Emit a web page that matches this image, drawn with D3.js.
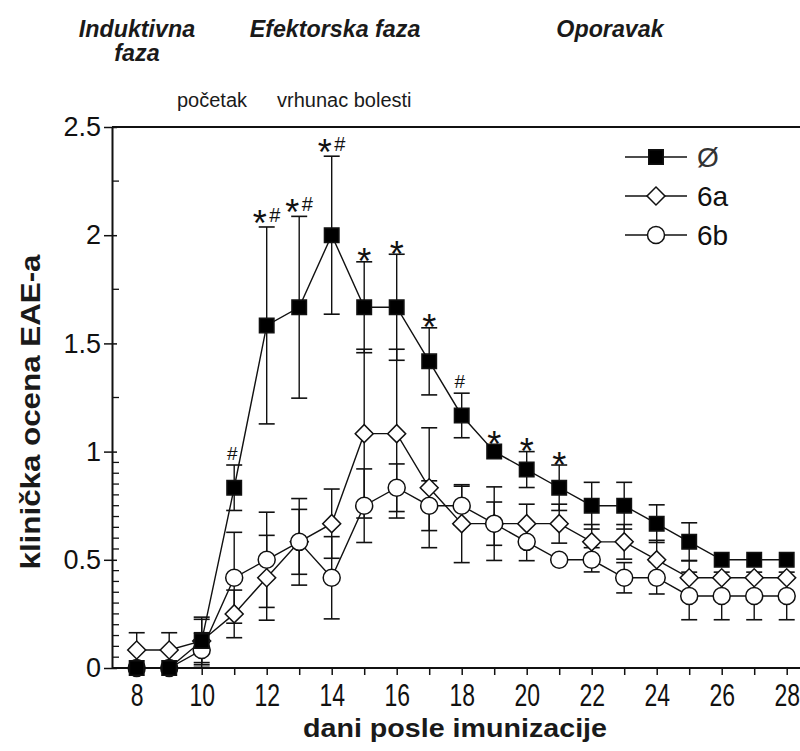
<!DOCTYPE html>
<html>
<head>
<meta charset="utf-8">
<script src="https://cdn.jsdelivr.net/npm/d3@7"></script>
<style>
  body { margin: 0; background: #fff; }
  svg { display: block; font-family: "Liberation Sans", Arial, sans-serif; }
</style>
</head>
<body>
<svg id="chart" width="800" height="751"></svg>
<script>
// Days after immunization
const days = [8, 9, 10, 11, 12, 13, 14, 15, 16, 17, 18, 19, 20, 21, 22, 23, 24, 25, 26, 27, 28];

// Mean clinical EAE score and its error (Ø = control)
const meanCtrl = [0, 0, 0.125, 0.833, 1.583, 1.667, 2.0, 1.667, 1.667, 1.417, 1.167, 1.0, 0.917, 0.833, 0.75, 0.75, 0.667, 0.583, 0.5, 0.5, 0.5];
const errCtrl  = [0, 0, 0.11, 0.105, 0.455, 0.42, 0.365, 0.21, 0.245, 0.155, 0.103, 0, 0.083, 0.105, 0.108, 0.108, 0.087, 0.088, 0, 0, 0];

const mean6a = [0.083, 0.083, 0.125, 0.25, 0.417, 0.583, 0.667, 1.083, 1.083, 0.833, 0.667, 0.667, 0.667, 0.667, 0.583, 0.583, 0.5, 0.417, 0.417, 0.417, 0.417];
const err6a  = [0.08, 0.08, 0.1, 0.11, 0.196, 0.2, 0.16, 0.39, 0.39, 0.277, 0.18, 0.17, 0.09, 0.09, 0.08, 0.08, 0.09, 0.08, 0, 0, 0];

const mean6b = [0, 0, 0.083, 0.417, 0.5, 0.583, 0.417, 0.75, 0.833, 0.75, 0.75, 0.667, 0.583, 0.5, 0.5, 0.417, 0.417, 0.333, 0.333, 0.333, 0.333];
const err6b  = [0, 0, 0.08, 0.21, 0.22, 0.15, 0.19, 0.17, 0.11, 0.115, 0.09, 0.1, 0.087, 0, 0.056, 0.07, 0.075, 0.11, 0.11, 0.11, 0.11];

// Significance marks above the control series
const starDays = [12, 13, 14, 15, 16, 17, 19, 20, 21];
const hashDays = [11, 12, 13, 14, 18];

// Axis ticks
const yMajor = [0, 0.5, 1, 1.5, 2, 2.5];
const yMinor = [0.05, 0.1, 0.15, 0.2, 0.25, 0.3, 0.35, 0.4, 0.45, 0.55, 0.6, 0.65, 0.7, 0.75, 0.8, 0.85, 0.9, 0.95, 1.25, 1.75, 2.25];
const xLabels = [8, 10, 12, 14, 16, 18, 20, 22, 24, 26, 28];

// Phase headings and events
const phases = [
  { lines: ["Induktivna", "faza"], cx: 137 },
  { lines: ["Efektorska faza"], cx: 335 },
  { lines: ["Oporavak"], cx: 610 }
];
const events = [
  { text: "početak", x: 177 },
  { text: "vrhunac bolesti", x: 277 }
];

const svg = d3.select("#chart");
const plotLeft = 112, plotRight = 800;
const x = d3.scaleLinear().domain([8, 28]).range([136.7, 786.7]);
const y = d3.scaleLinear().domain([0, 2.5]).range([668, 127]);

const build = (m, e) => days.map((d, i) => ({ day: d, v: m[i], e: e[i] }));
const series = [
  { name: "6a", shape: "diamond", data: build(mean6a, err6a) },
  { name: "6b", shape: "circle", data: build(mean6b, err6b) },
  { name: "Ø", shape: "square", data: build(meanCtrl, errCtrl) }
];
const ctrl = series[2].data;

// --- frame and axes ---
svg.append("line")
  .attr("x1", plotLeft).attr("x2", plotRight)
  .attr("y1", y(2.5)).attr("y2", y(2.5))
  .attr("stroke", "#111").attr("stroke-width", 2);

const gy = svg.append("g").attr("transform", `translate(${plotLeft},0)`)
  .call(d3.axisLeft(y).tickValues(yMajor).tickFormat(d3.format("~g"))
    .tickSizeInner(8).tickSizeOuter(0).tickPadding(3));
gy.select(".domain").attr("stroke", "#111").attr("stroke-width", 2);
gy.selectAll(".tick line").attr("x2", -8).attr("x1", 5).attr("stroke", "#111").attr("stroke-width", 1.5);
gy.selectAll(".tick text").attr("font-size", 27).attr("fill", "#111")
  .attr("font-family", "'Liberation Sans', Arial, sans-serif");

gy.selectAll(".minor").data(yMinor).join("line")
  .attr("class", "minor")
  .attr("x1", 0).attr("x2", 7)
  .attr("y1", d => y(d)).attr("y2", d => y(d))
  .attr("stroke", "#111").attr("stroke-width", 1.3);

const gx = svg.append("g").attr("transform", `translate(0,${y(0)})`)
  .call(d3.axisBottom(x).tickValues(days)
    .tickFormat(d => xLabels.includes(d) ? d : "")
    .tickSizeInner(7).tickSizeOuter(0));
gx.select(".domain").attr("d", `M${plotLeft},0H${plotRight}`).attr("stroke", "#111").attr("stroke-width", 2);
gx.selectAll(".tick line").attr("stroke", "#111").attr("stroke-width", 1.5);
gx.selectAll(".tick text")
  .attr("font-size", 28).attr("fill", "#111")
  .attr("font-family", "'Liberation Sans', Arial, sans-serif")
  .attr("y", 0).attr("dy", null)
  .attr("transform", "translate(0,38) scale(0.82,1.1)");

// axis titles
svg.append("text")
  .attr("transform", "translate(40,412) rotate(-90)")
  .attr("text-anchor", "middle")
  .attr("font-size", 27).attr("font-weight", "bold").attr("fill", "#1a1a1a")
  .attr("textLength", 315).attr("lengthAdjust", "spacingAndGlyphs")
  .text("klinička ocena EAE-a");

svg.append("text")
  .attr("x", 455).attr("y", 737)
  .attr("text-anchor", "middle")
  .attr("font-size", 26).attr("font-weight", "bold").attr("fill", "#1a1a1a")
  .attr("textLength", 304).attr("lengthAdjust", "spacingAndGlyphs")
  .text("dani posle imunizacije");

// phase headings (multi-line headings kept in one text element)
phases.forEach(p => {
  const t = svg.append("text")
    .attr("transform", `translate(${p.cx},37) scale(0.97,1)`)
    .attr("text-anchor", "middle")
    .attr("font-size", 24).attr("font-weight", "bold").attr("font-style", "italic")
    .attr("fill", "#1a1a1a");
  p.lines.forEach((line, i) => {
    t.append("tspan").attr("x", 0).attr("dy", i === 0 ? 0 : 24).text(line);
  });
});
events.forEach(ev => {
  svg.append("text")
    .attr("x", ev.x).attr("y", 107)
    .attr("font-size", 20).attr("fill", "#1a1a1a")
    .text(ev.text);
});

// --- data ---
const plot = svg.append("g");
const line = d3.line().x(d => x(d.day)).y(d => y(d.v));

plot.selectAll(".series-line").data(series).join("path")
  .attr("class", "series-line")
  .attr("d", s => line(s.data))
  .attr("fill", "none").attr("stroke", "#111").attr("stroke-width", 1.4);

const capW = 8;
series.forEach(s => {
  const g = plot.append("g");
  const withErr = s.data.filter(d => d.e > 0);
  g.selectAll(".bar").data(withErr).join("line")
    .attr("x1", d => x(d.day)).attr("x2", d => x(d.day))
    .attr("y1", d => y(d.v - d.e)).attr("y2", d => y(d.v + d.e))
    .attr("stroke", "#111").attr("stroke-width", 1.4);
  g.selectAll(".capTop").data(withErr).join("line")
    .attr("x1", d => x(d.day) - capW).attr("x2", d => x(d.day) + capW)
    .attr("y1", d => y(d.v + d.e)).attr("y2", d => y(d.v + d.e))
    .attr("stroke", "#111").attr("stroke-width", 1.6);
  g.selectAll(".capBot").data(withErr).join("line")
    .attr("x1", d => x(d.day) - capW).attr("x2", d => x(d.day) + capW)
    .attr("y1", d => y(d.v - d.e)).attr("y2", d => y(d.v - d.e))
    .attr("stroke", "#111").attr("stroke-width", 1.6);
});

const symbolPath = {
  square: d3.symbol().type(d3.symbolSquare).size(14.5 * 14.5)(),
  diamond: d3.symbol().type(d3.symbolSquare).size(12.7 * 12.7)(),
  circle: d3.symbol().type(d3.symbolCircle).size(Math.PI * 8.5 * 8.5)()
};
function drawMarker(sel, shape, fill) {
  sel.append("path")
    .attr("d", symbolPath[shape])
    .attr("transform", shape === "diamond" ? "rotate(45)" : null)
    .attr("fill", fill)
    .attr("stroke", "#111").attr("stroke-width", 1.5);
}

series.forEach(s => {
  const g = plot.append("g");
  s.data.forEach((d, i) => {
    let fill = s.shape === "square" ? "#000" : "#fff";
    // where the 6b point sits on the control point, the overlap reads as one solid mark
    if (s.shape === "circle" && ctrl[i].v === d.v) fill = "#000";
    const m = g.append("g").attr("transform", `translate(${x(d.day)},${y(d.v)})`);
    drawMarker(m, s.shape, fill);
  });
});

// significance marks above the control bars
const ann = svg.append("g").attr("fill", "#111");
days.forEach((d, i) => {
  const hasStar = starDays.includes(d), hasHash = hashDays.includes(d);
  if (!hasStar && !hasHash) return;
  const c = ctrl[i];
  const top = c.e > 0 ? y(c.v + c.e) : y(c.v) - 7.25;
  const cx = x(d);
  if (hasStar && hasHash) {
    ann.append("text").attr("x", cx - 7).attr("y", top + 9).attr("text-anchor", "middle")
      .attr("font-size", 36).text("*");
    ann.append("text").attr("x", cx + 8).attr("y", top - 5).attr("text-anchor", "middle")
      .attr("font-size", 20).text("#");
  } else if (hasStar) {
    ann.append("text").attr("x", cx).attr("y", top + 12.5).attr("text-anchor", "middle")
      .attr("font-size", 36).text("*");
  } else {
    ann.append("text").attr("x", cx - 2).attr("y", top - 5).attr("text-anchor", "middle")
      .attr("font-size", 19).text("#");
  }
});

// --- legend ---
const legendRows = [
  { name: "Ø", shape: "square", fill: "#000", y: 157 },
  { name: "6a", shape: "diamond", fill: "#fff", y: 196 },
  { name: "6b", shape: "circle", fill: "#fff", y: 235 }
];
const lg = svg.append("g");
legendRows.forEach(r => {
  lg.append("line").attr("x1", 625).attr("x2", 687).attr("y1", r.y).attr("y2", r.y)
    .attr("stroke", "#111").attr("stroke-width", 1.4);
  const m = lg.append("g").attr("transform", `translate(656,${r.y})`);
  drawMarker(m, r.shape, r.fill);
  lg.append("text").attr("x", 697).attr("y", r.y).attr("dy", "0.36em")
    .attr("font-size", 28).attr("fill", r.name === "Ø" ? "#333" : "#111")
    .text(r.name);
});
</script>
</body>
</html>
